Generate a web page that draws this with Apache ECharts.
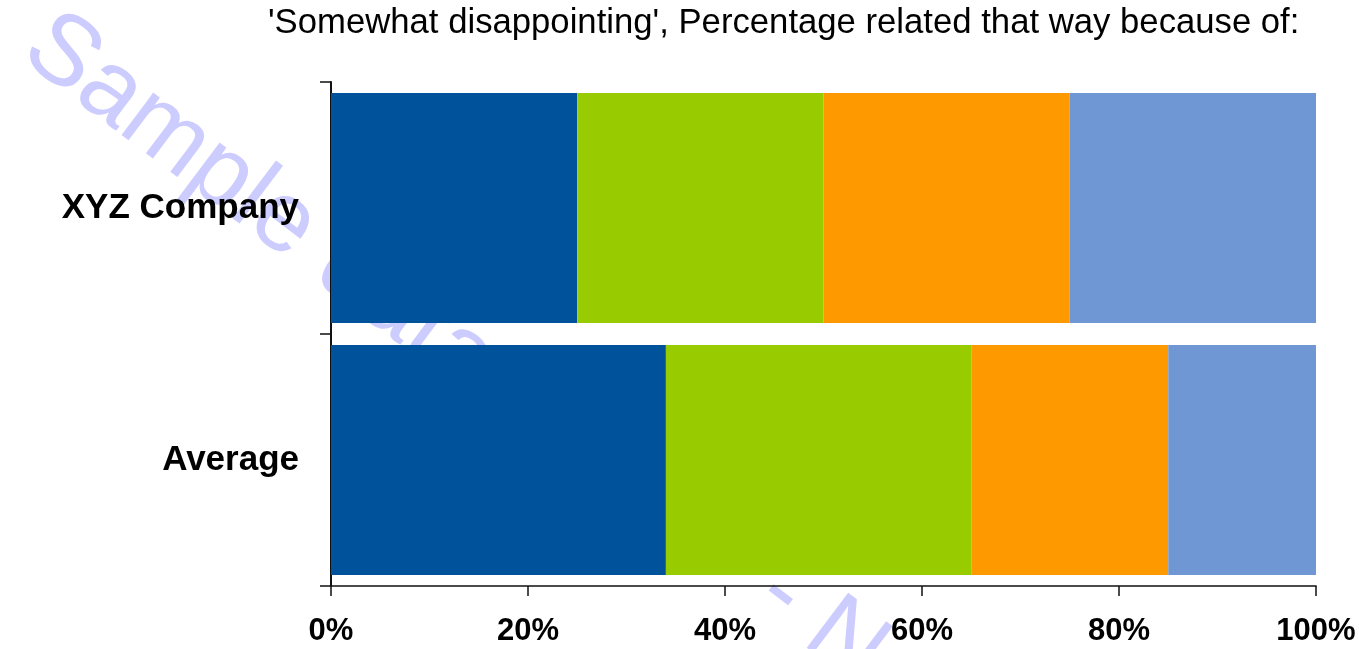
<!DOCTYPE html>
<html>
<head>
<meta charset="utf-8">
<script src="https://cdn.jsdelivr.net/npm/echarts@6/dist/echarts.min.js"></script>
<style>
html,body{margin:0;padding:0;background:#fff;}
#chart{width:1359px;height:649px;}
</style>
</head>
<body>
<div id="chart"></div>
<script>
var categories = ['XYZ Company', 'Average'];
var seriesNames = ['Reason 1', 'Reason 2', 'Reason 3', 'Reason 4'];
var reason1 = [25, 34];
var reason2 = [25, 31];
var reason3 = [25, 20];
var reason4 = [25, 15];
var xTicks = [0, 20, 40, 60, 80, 100];
var titleText = "'Somewhat disappointing', Percentage related that way because of:";
var watermark1 = 'Sample data';
var watermark2 = '- Not real';

var colors = ['#00529B', '#99CC00', '#FF9900', '#6F97D4'];
var values = [reason1, reason2, reason3, reason4];
var FONT = "'Liberation Sans', Arial, sans-serif";
var ang = -37 * Math.PI / 180;

var chart = echarts.init(document.getElementById('chart'), null, {renderer: 'canvas'});
var option = {
  backgroundColor: '#ffffff',
  animation: false,
  title: {
    text: titleText,
    left: 268,
    top: 6,
    padding: 0,
    textStyle: {fontFamily: FONT, fontSize: 34.7, fontWeight: 'normal', color: '#000'}
  },
  graphic: [
    {
      type: 'text', z: -1, x: 35, y: 35, rotation: ang,
      style: {text: watermark1, fontFamily: FONT, fontSize: 100, fill: '#CCCCFF',
        textAlign: 'left', textVerticalAlign: 'middle'}
    },
    {
      type: 'text', z: -1, x: 768, y: 584, rotation: ang,
      style: {text: watermark2, fontFamily: FONT, fontSize: 100, fill: '#CCCCFF',
        textAlign: 'left', textVerticalAlign: 'middle'}
    }
  ],
  grid: {left: 331, right: 43, top: 82, bottom: 63, containLabel: false},
  xAxis: {
    type: 'value',
    min: xTicks[0],
    max: xTicks[xTicks.length - 1],
    interval: xTicks[1] - xTicks[0],
    splitLine: {show: false},
    axisLine: {show: true, lineStyle: {color: '#111', width: 1.5}},
    axisTick: {show: true, length: 10, lineStyle: {color: '#111', width: 1.5}},
    axisLabel: {
      formatter: '{value}%', margin: 30,
      fontFamily: FONT, fontSize: 31, fontWeight: 'bold', color: '#000'
    }
  },
  yAxis: {
    type: 'category',
    data: categories,
    inverse: true,
    axisLine: {show: true, lineStyle: {color: '#111', width: 2}},
    axisTick: {show: true, length: 11, alignWithLabel: false, lineStyle: {color: '#111', width: 1.5}},
    axisLabel: {margin: 32, fontFamily: FONT, fontSize: 35, fontWeight: 'bold', color: '#000'}
  },
  series: values.map(function (v, i) {
    return {
      name: seriesNames[i],
      type: 'bar',
      stack: 'total',
      data: v,
      barCategoryGap: '8.7%',
      itemStyle: {color: colors[i]},
      emphasis: {disabled: true}
    };
  })
};
chart.setOption(option);
</script>
</body>
</html>
